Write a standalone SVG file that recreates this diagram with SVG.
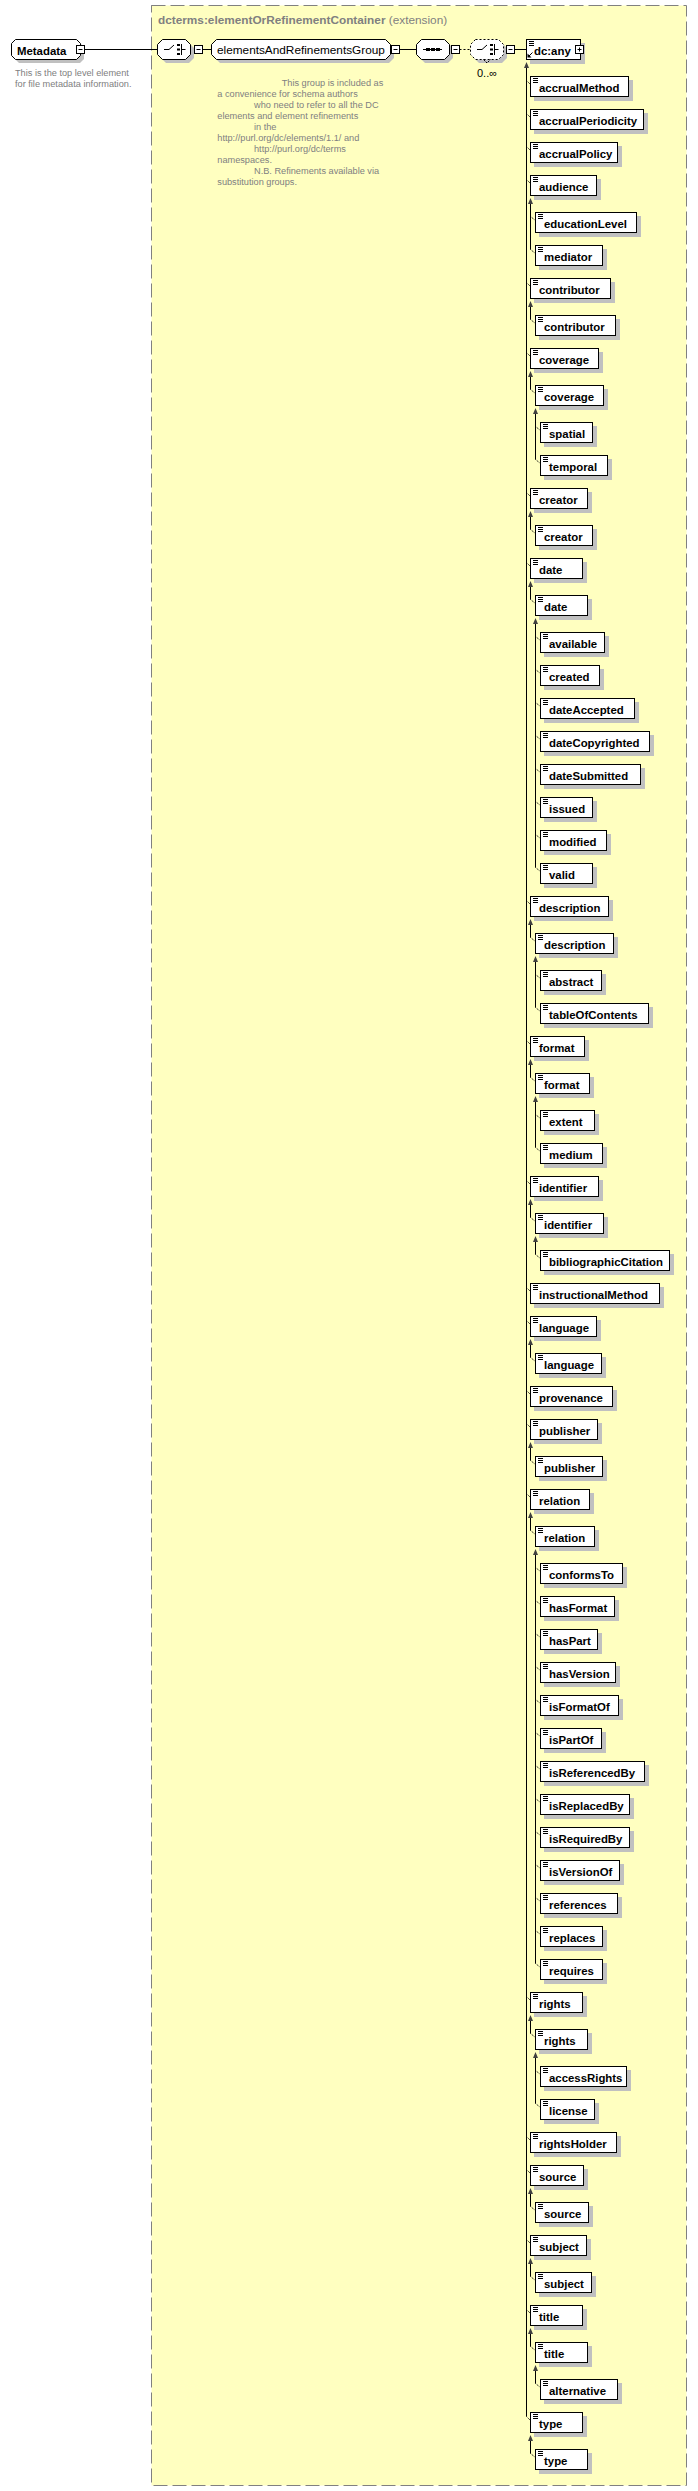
<svg xmlns="http://www.w3.org/2000/svg" width="698" height="2491" viewBox="0 0 698 2491">
<style>
.sh{fill:#c0c0c0}
.bx{fill:#fff;stroke:#000;stroke-width:1}
.ic{stroke:#000;stroke-width:1;fill:none}
.el{font-family:"Liberation Sans",Arial,sans-serif;font-weight:bold;font-size:11.4px;fill:#000}
.ln{stroke:#000;stroke-width:1;fill:none}
.dt{stroke:#000;stroke-width:1;stroke-dasharray:1 1;fill:none}
.ar{fill:#404040}
.doc{font-family:"Liberation Sans",Arial,sans-serif;font-size:9.2px;fill:#808080}
.btn{fill:#fff;stroke:#000;stroke-width:1}
</style>
<defs>
<path id="ico" class="ic" d="M3 2.5h5M3 4.5h5M3 6.5h5"/>
</defs>
<rect id="container" x="151.5" y="5.5" width="535" height="2480" fill="#ffffc0" stroke="#808080" stroke-dasharray="14 5"/>
<text x="158" y="24" style="font-family:'Liberation Sans',Arial,sans-serif;font-size:11.8px;fill:#808080"><tspan font-weight="bold">dcterms:elementOrRefinementContainer</tspan> (extension)</text>

<g id="connectors">
<path class="ln" d="M84.5 49.5H157.5M190.5 49.5H194.5M202.5 49.5H211.5M399.5 49.5H416.5M514.5 49.5H526.5"/>
<path class="ln" d="M459.5 49.5H470.5" stroke-dasharray="2 2"/>
<path class="ln" d="M526.5 68V2416.5
M530.5 204V249.5M530.5 307V319.5M530.5 377V389.5M530.5 517V529.5M530.5 587V599.5M530.5 925V937.5M530.5 1065V1077.5M530.5 1205V1217.5M530.5 1345V1357.5M530.5 1448V1460.5M530.5 1518V1530.5M530.5 2021V2033.5M530.5 2194V2206.5M530.5 2264V2276.5M530.5 2334V2346.5M530.5 2441V2453.5
M535.5 414V459.5M535.5 624V867.5M535.5 962V1007.5M535.5 1102V1147.5M535.5 1242V1254.5M535.5 1555V1963.5M535.5 2058V2103.5M535.5 2371V2383.5"/>
<path class="ar" d="M526.5 62l2.5 6h-5z
M530.5 198l2.5 6h-5zM530.5 301l2.5 6h-5zM530.5 371l2.5 6h-5zM530.5 511l2.5 6h-5zM530.5 581l2.5 6h-5zM530.5 919l2.5 6h-5zM530.5 1059l2.5 6h-5zM530.5 1199l2.5 6h-5zM530.5 1339l2.5 6h-5zM530.5 1442l2.5 6h-5zM530.5 1512l2.5 6h-5zM530.5 2015l2.5 6h-5zM530.5 2188l2.5 6h-5zM530.5 2258l2.5 6h-5zM530.5 2328l2.5 6h-5zM530.5 2435l2.5 6h-5z
M535.5 408l2.5 6h-5zM535.5 618l2.5 6h-5zM535.5 956l2.5 6h-5zM535.5 1096l2.5 6h-5zM535.5 1236l2.5 6h-5zM535.5 1549l2.5 6h-5zM535.5 2052l2.5 6h-5zM535.5 2365l2.5 6h-5z"/>
<path class="dt" d="M526.5 80.5l4 4M526.5 113.5l4 4M526.5 146.5l4 4M526.5 179.5l4 4M526.5 282.5l4 4M526.5 352.5l4 4M526.5 492.5l4 4M526.5 562.5l4 4M526.5 900.5l4 4M526.5 1040.5l4 4M526.5 1180.5l4 4M526.5 1287.5l4 4M526.5 1320.5l4 4M526.5 1390.5l4 4M526.5 1423.5l4 4M526.5 1493.5l4 4M526.5 1996.5l4 4M526.5 2136.5l4 4M526.5 2169.5l4 4M526.5 2239.5l4 4M526.5 2309.5l4 4M526.5 2416.5l4 4
M530.5 216.5l5 4M530.5 249.5l5 4M530.5 319.5l5 4M530.5 389.5l5 4M530.5 529.5l5 4M530.5 599.5l5 4M530.5 937.5l5 4M530.5 1077.5l5 4M530.5 1217.5l5 4M530.5 1357.5l5 4M530.5 1460.5l5 4M530.5 1530.5l5 4M530.5 2033.5l5 4M530.5 2206.5l5 4M530.5 2276.5l5 4M530.5 2346.5l5 4M530.5 2453.5l5 4
M535.5 426.5l5 4M535.5 459.5l5 4M535.5 636.5l5 4M535.5 669.5l5 4M535.5 702.5l5 4M535.5 735.5l5 4M535.5 768.5l5 4M535.5 801.5l5 4M535.5 834.5l5 4M535.5 867.5l5 4M535.5 974.5l5 4M535.5 1007.5l5 4M535.5 1114.5l5 4M535.5 1147.5l5 4M535.5 1254.5l5 4M535.5 1567.5l5 4M535.5 1600.5l5 4M535.5 1633.5l5 4M535.5 1666.5l5 4M535.5 1699.5l5 4M535.5 1732.5l5 4M535.5 1765.5l5 4M535.5 1798.5l5 4M535.5 1831.5l5 4M535.5 1864.5l5 4M535.5 1897.5l5 4M535.5 1930.5l5 4M535.5 1963.5l5 4M535.5 2070.5l5 4M535.5 2103.5l5 4M535.5 2383.5l5 4"/>
</g>

<g id="Metadata">
<path class="sh" d="M19 43H80L84 47V59L80 63H19L15 59V47Z"/>
<path class="bx" d="M15.5 39.5H76.5L80.5 43.5V55.5L76.5 59.5H15.5L11.5 55.5V43.5Z"/>
<text class="el" x="17" y="55">Metadata</text>
<rect class="btn" x="76.5" y="45.5" width="8" height="8"/>
<path class="ic" d="M78.5 49.5h4"/>
<text class="doc" x="15" y="76">This is the top level element</text>
<text class="doc" x="15" y="87">for file metadata information.</text>
</g>

<g id="choice">
<path class="sh" d="M166 43H189L194 48V58L189 63H166L161 58V48Z"/>
<path class="bx" d="M162.5 39.5H185.5L190.5 44.5V54.5L185.5 59.5H162.5L157.5 54.5V44.5Z"/>
<path class="ic" d="M164 49.5h5l5-4.5M181.5 44v11M181.5 49.5h4"/>
<path d="M177 44h3v2h-3zM177 48.5h3v2h-3zM177 53h3v2h-3z" fill="#000"/>
<rect class="btn" x="194.5" y="45.5" width="8" height="8"/>
<path class="ic" d="M196.5 49.5h4"/>
</g>

<g id="elementsAndRefinementsGroup">
<path class="sh" d="M220 43H389L394 48V58L389 63H220L215 58V48Z"/>
<path class="bx" d="M216.5 39.5H385.5L390.5 44.5V54.5L385.5 59.5H216.5L211.5 54.5V44.5Z"/>
<text x="217" y="54" style="font-family:'Liberation Sans',Arial,sans-serif;font-size:11.8px;fill:#000">elementsAndRefinementsGroup</text>
<rect class="btn" x="391.5" y="45.5" width="8" height="8"/>
<path class="ic" d="M393.5 49.5h4"/>
<text class="doc" xml:space="preserve"><tspan x="281.7" y="86">This group is included as</tspan><tspan x="217.3" y="97">a convenience for schema authors</tspan><tspan x="254" y="108">who need to refer to all the DC</tspan><tspan x="217.3" y="119">elements and element refinements</tspan><tspan x="254" y="130">in the</tspan><tspan x="217.3" y="141">http://purl.org/dc/elements/1.1/ and</tspan><tspan x="254" y="152">http://purl.org/dc/terms</tspan><tspan x="217.3" y="163">namespaces.</tspan><tspan x="254" y="174">N.B. Refinements available via</tspan><tspan x="217.3" y="185">substitution groups.</tspan></text>
</g>

<g id="sequence">
<path class="sh" d="M425 43H448L453 48V58L448 63H425L420 58V48Z"/>
<path class="bx" d="M421.5 39.5H444.5L449.5 44.5V54.5L444.5 59.5H421.5L416.5 54.5V44.5Z"/>
<path class="ic" d="M423 49.5h19"/>
<path d="M426 48h4v3h-4zM431 48h4v3h-4zM436 48h4v3h-4z" fill="#000"/>
<rect class="btn" x="451.5" y="45.5" width="8" height="8"/>
<path class="ic" d="M453.5 49.5h4"/>
</g>

<g id="choice-any">
<path class="sh" d="M479 43H502L507 48V58L502 63H479L474 58V48Z"/>
<path class="bx" d="M475.5 39.5H498.5L503.5 44.5V54.5L498.5 59.5H475.5L470.5 54.5V44.5Z" stroke-dasharray="2 2"/>
<path class="ic" d="M483.5 59.5l3.5 3.5 3.5-3.5" stroke-dasharray="2 1"/>
<path class="ic" d="M477 49.5h5l5-4.5M494.5 44v11M494.5 49.5h4"/>
<path d="M490 44h3v2h-3zM490 48.5h3v2h-3zM490 53h3v2h-3z" fill="#000"/>
<text x="487" y="77" text-anchor="middle" style="font-family:'Liberation Sans',Arial,sans-serif;font-size:11px;fill:#000">0..∞</text>
<rect class="btn" x="506.5" y="45.5" width="8" height="8"/>
<path class="ic" d="M508.5 49.5h4"/>
</g>

<g id="dc-any" transform="translate(526,39)">
<rect class="sh" x="4" y="4" width="55" height="21"/>
<rect class="bx" x=".5" y=".5" width="54" height="20"/>
<use href="#ico"/>
<path class="ic" d="M2.5 17.5l4-4"/>
<path d="M1.5 18.5v-4l4 4z" fill="#000"/>
<text class="el" x="8" y="15.5">dc:any</text>
<rect class="btn" x="49.5" y="6.5" width="8" height="8"/>
<path class="ic" d="M51.5 10.5h4M53.5 8.5v4"/>
</g>

<g id="n01" transform="translate(530,76)"><rect class="sh" x="4" y="4" width="99" height="21"/><rect class="bx" x=".5" y=".5" width="98" height="20"/><use href="#ico"/><text class="el" x="9" y="15.5">accrualMethod</text></g>
<g id="n02" transform="translate(530,109)"><rect class="sh" x="4" y="4" width="114" height="21"/><rect class="bx" x=".5" y=".5" width="113" height="20"/><use href="#ico"/><text class="el" x="9" y="15.5">accrualPeriodicity</text></g>
<g id="n03" transform="translate(530,142)"><rect class="sh" x="4" y="4" width="88" height="21"/><rect class="bx" x=".5" y=".5" width="87" height="20"/><use href="#ico"/><text class="el" x="9" y="15.5">accrualPolicy</text></g>
<g id="n04" transform="translate(530,175)"><rect class="sh" x="4" y="4" width="67" height="21"/><rect class="bx" x=".5" y=".5" width="66" height="20"/><use href="#ico"/><text class="el" x="9" y="15.5">audience</text></g>
<g id="n05" transform="translate(535,212)"><rect class="sh" x="4" y="4" width="102" height="21"/><rect class="bx" x=".5" y=".5" width="101" height="20"/><use href="#ico"/><text class="el" x="9" y="15.5">educationLevel</text></g>
<g id="n06" transform="translate(535,245)"><rect class="sh" x="4" y="4" width="68" height="21"/><rect class="bx" x=".5" y=".5" width="67" height="20"/><use href="#ico"/><text class="el" x="9" y="15.5">mediator</text></g>
<g id="n07" transform="translate(530,278)"><rect class="sh" x="4" y="4" width="81" height="21"/><rect class="bx" x=".5" y=".5" width="80" height="20"/><use href="#ico"/><text class="el" x="9" y="15.5">contributor</text></g>
<g id="n08" transform="translate(535,315)"><rect class="sh" x="4" y="4" width="81" height="21"/><rect class="bx" x=".5" y=".5" width="80" height="20"/><use href="#ico"/><text class="el" x="9" y="15.5">contributor</text></g>
<g id="n09" transform="translate(530,348)"><rect class="sh" x="4" y="4" width="69" height="21"/><rect class="bx" x=".5" y=".5" width="68" height="20"/><use href="#ico"/><text class="el" x="9" y="15.5">coverage</text></g>
<g id="n10" transform="translate(535,385)"><rect class="sh" x="4" y="4" width="69" height="21"/><rect class="bx" x=".5" y=".5" width="68" height="20"/><use href="#ico"/><text class="el" x="9" y="15.5">coverage</text></g>
<g id="n11" transform="translate(540,422)"><rect class="sh" x="4" y="4" width="53" height="21"/><rect class="bx" x=".5" y=".5" width="52" height="20"/><use href="#ico"/><text class="el" x="9" y="15.5">spatial</text></g>
<g id="n12" transform="translate(540,455)"><rect class="sh" x="4" y="4" width="68" height="21"/><rect class="bx" x=".5" y=".5" width="67" height="20"/><use href="#ico"/><text class="el" x="9" y="15.5">temporal</text></g>
<g id="n13" transform="translate(530,488)"><rect class="sh" x="4" y="4" width="58" height="21"/><rect class="bx" x=".5" y=".5" width="57" height="20"/><use href="#ico"/><text class="el" x="9" y="15.5">creator</text></g>
<g id="n14" transform="translate(535,525)"><rect class="sh" x="4" y="4" width="58" height="21"/><rect class="bx" x=".5" y=".5" width="57" height="20"/><use href="#ico"/><text class="el" x="9" y="15.5">creator</text></g>
<g id="n15" transform="translate(530,558)"><rect class="sh" x="4" y="4" width="53" height="21"/><rect class="bx" x=".5" y=".5" width="52" height="20"/><use href="#ico"/><text class="el" x="9" y="15.5">date</text></g>
<g id="n16" transform="translate(535,595)"><rect class="sh" x="4" y="4" width="53" height="21"/><rect class="bx" x=".5" y=".5" width="52" height="20"/><use href="#ico"/><text class="el" x="9" y="15.5">date</text></g>
<g id="n17" transform="translate(540,632)"><rect class="sh" x="4" y="4" width="65" height="21"/><rect class="bx" x=".5" y=".5" width="64" height="20"/><use href="#ico"/><text class="el" x="9" y="15.5">available</text></g>
<g id="n18" transform="translate(540,665)"><rect class="sh" x="4" y="4" width="60" height="21"/><rect class="bx" x=".5" y=".5" width="59" height="20"/><use href="#ico"/><text class="el" x="9" y="15.5">created</text></g>
<g id="n19" transform="translate(540,698)"><rect class="sh" x="4" y="4" width="95" height="21"/><rect class="bx" x=".5" y=".5" width="94" height="20"/><use href="#ico"/><text class="el" x="9" y="15.5">dateAccepted</text></g>
<g id="n20" transform="translate(540,731)"><rect class="sh" x="4" y="4" width="110" height="21"/><rect class="bx" x=".5" y=".5" width="109" height="20"/><use href="#ico"/><text class="el" x="9" y="15.5">dateCopyrighted</text></g>
<g id="n21" transform="translate(540,764)"><rect class="sh" x="4" y="4" width="101" height="21"/><rect class="bx" x=".5" y=".5" width="100" height="20"/><use href="#ico"/><text class="el" x="9" y="15.5">dateSubmitted</text></g>
<g id="n22" transform="translate(540,797)"><rect class="sh" x="4" y="4" width="53" height="21"/><rect class="bx" x=".5" y=".5" width="52" height="20"/><use href="#ico"/><text class="el" x="9" y="15.5">issued</text></g>
<g id="n23" transform="translate(540,830)"><rect class="sh" x="4" y="4" width="67" height="21"/><rect class="bx" x=".5" y=".5" width="66" height="20"/><use href="#ico"/><text class="el" x="9" y="15.5">modified</text></g>
<g id="n24" transform="translate(540,863)"><rect class="sh" x="4" y="4" width="53" height="21"/><rect class="bx" x=".5" y=".5" width="52" height="20"/><use href="#ico"/><text class="el" x="9" y="15.5">valid</text></g>
<g id="n25" transform="translate(530,896)"><rect class="sh" x="4" y="4" width="79" height="21"/><rect class="bx" x=".5" y=".5" width="78" height="20"/><use href="#ico"/><text class="el" x="9" y="15.5">description</text></g>
<g id="n26" transform="translate(535,933)"><rect class="sh" x="4" y="4" width="79" height="21"/><rect class="bx" x=".5" y=".5" width="78" height="20"/><use href="#ico"/><text class="el" x="9" y="15.5">description</text></g>
<g id="n27" transform="translate(540,970)"><rect class="sh" x="4" y="4" width="62" height="21"/><rect class="bx" x=".5" y=".5" width="61" height="20"/><use href="#ico"/><text class="el" x="9" y="15.5">abstract</text></g>
<g id="n28" transform="translate(540,1003)"><rect class="sh" x="4" y="4" width="109" height="21"/><rect class="bx" x=".5" y=".5" width="108" height="20"/><use href="#ico"/><text class="el" x="9" y="15.5">tableOfContents</text></g>
<g id="n29" transform="translate(530,1036)"><rect class="sh" x="4" y="4" width="55" height="21"/><rect class="bx" x=".5" y=".5" width="54" height="20"/><use href="#ico"/><text class="el" x="9" y="15.5">format</text></g>
<g id="n30" transform="translate(535,1073)"><rect class="sh" x="4" y="4" width="55" height="21"/><rect class="bx" x=".5" y=".5" width="54" height="20"/><use href="#ico"/><text class="el" x="9" y="15.5">format</text></g>
<g id="n31" transform="translate(540,1110)"><rect class="sh" x="4" y="4" width="55" height="21"/><rect class="bx" x=".5" y=".5" width="54" height="20"/><use href="#ico"/><text class="el" x="9" y="15.5">extent</text></g>
<g id="n32" transform="translate(540,1143)"><rect class="sh" x="4" y="4" width="63" height="21"/><rect class="bx" x=".5" y=".5" width="62" height="20"/><use href="#ico"/><text class="el" x="9" y="15.5">medium</text></g>
<g id="n33" transform="translate(530,1176)"><rect class="sh" x="4" y="4" width="69" height="21"/><rect class="bx" x=".5" y=".5" width="68" height="20"/><use href="#ico"/><text class="el" x="9" y="15.5">identifier</text></g>
<g id="n34" transform="translate(535,1213)"><rect class="sh" x="4" y="4" width="69" height="21"/><rect class="bx" x=".5" y=".5" width="68" height="20"/><use href="#ico"/><text class="el" x="9" y="15.5">identifier</text></g>
<g id="n35" transform="translate(540,1250)"><rect class="sh" x="4" y="4" width="130" height="21"/><rect class="bx" x=".5" y=".5" width="129" height="20"/><use href="#ico"/><text class="el" x="9" y="15.5">bibliographicCitation</text></g>
<g id="n36" transform="translate(530,1283)"><rect class="sh" x="4" y="4" width="130" height="21"/><rect class="bx" x=".5" y=".5" width="129" height="20"/><use href="#ico"/><text class="el" x="9" y="15.5">instructionalMethod</text></g>
<g id="n37" transform="translate(530,1316)"><rect class="sh" x="4" y="4" width="67" height="21"/><rect class="bx" x=".5" y=".5" width="66" height="20"/><use href="#ico"/><text class="el" x="9" y="15.5">language</text></g>
<g id="n38" transform="translate(535,1353)"><rect class="sh" x="4" y="4" width="67" height="21"/><rect class="bx" x=".5" y=".5" width="66" height="20"/><use href="#ico"/><text class="el" x="9" y="15.5">language</text></g>
<g id="n39" transform="translate(530,1386)"><rect class="sh" x="4" y="4" width="83" height="21"/><rect class="bx" x=".5" y=".5" width="82" height="20"/><use href="#ico"/><text class="el" x="9" y="15.5">provenance</text></g>
<g id="n40" transform="translate(530,1419)"><rect class="sh" x="4" y="4" width="68" height="21"/><rect class="bx" x=".5" y=".5" width="67" height="20"/><use href="#ico"/><text class="el" x="9" y="15.5">publisher</text></g>
<g id="n41" transform="translate(535,1456)"><rect class="sh" x="4" y="4" width="68" height="21"/><rect class="bx" x=".5" y=".5" width="67" height="20"/><use href="#ico"/><text class="el" x="9" y="15.5">publisher</text></g>
<g id="n42" transform="translate(530,1489)"><rect class="sh" x="4" y="4" width="60" height="21"/><rect class="bx" x=".5" y=".5" width="59" height="20"/><use href="#ico"/><text class="el" x="9" y="15.5">relation</text></g>
<g id="n43" transform="translate(535,1526)"><rect class="sh" x="4" y="4" width="60" height="21"/><rect class="bx" x=".5" y=".5" width="59" height="20"/><use href="#ico"/><text class="el" x="9" y="15.5">relation</text></g>
<g id="n44" transform="translate(540,1563)"><rect class="sh" x="4" y="4" width="83" height="21"/><rect class="bx" x=".5" y=".5" width="82" height="20"/><use href="#ico"/><text class="el" x="9" y="15.5">conformsTo</text></g>
<g id="n45" transform="translate(540,1596)"><rect class="sh" x="4" y="4" width="75" height="21"/><rect class="bx" x=".5" y=".5" width="74" height="20"/><use href="#ico"/><text class="el" x="9" y="15.5">hasFormat</text></g>
<g id="n46" transform="translate(540,1629)"><rect class="sh" x="4" y="4" width="58" height="21"/><rect class="bx" x=".5" y=".5" width="57" height="20"/><use href="#ico"/><text class="el" x="9" y="15.5">hasPart</text></g>
<g id="n47" transform="translate(540,1662)"><rect class="sh" x="4" y="4" width="76" height="21"/><rect class="bx" x=".5" y=".5" width="75" height="20"/><use href="#ico"/><text class="el" x="9" y="15.5">hasVersion</text></g>
<g id="n48" transform="translate(540,1695)"><rect class="sh" x="4" y="4" width="79" height="21"/><rect class="bx" x=".5" y=".5" width="78" height="20"/><use href="#ico"/><text class="el" x="9" y="15.5">isFormatOf</text></g>
<g id="n49" transform="translate(540,1728)"><rect class="sh" x="4" y="4" width="62" height="21"/><rect class="bx" x=".5" y=".5" width="61" height="20"/><use href="#ico"/><text class="el" x="9" y="15.5">isPartOf</text></g>
<g id="n50" transform="translate(540,1761)"><rect class="sh" x="4" y="4" width="105" height="21"/><rect class="bx" x=".5" y=".5" width="104" height="20"/><use href="#ico"/><text class="el" x="9" y="15.5">isReferencedBy</text></g>
<g id="n51" transform="translate(540,1794)"><rect class="sh" x="4" y="4" width="90" height="21"/><rect class="bx" x=".5" y=".5" width="89" height="20"/><use href="#ico"/><text class="el" x="9" y="15.5">isReplacedBy</text></g>
<g id="n52" transform="translate(540,1827)"><rect class="sh" x="4" y="4" width="90" height="21"/><rect class="bx" x=".5" y=".5" width="89" height="20"/><use href="#ico"/><text class="el" x="9" y="15.5">isRequiredBy</text></g>
<g id="n53" transform="translate(540,1860)"><rect class="sh" x="4" y="4" width="80" height="21"/><rect class="bx" x=".5" y=".5" width="79" height="20"/><use href="#ico"/><text class="el" x="9" y="15.5">isVersionOf</text></g>
<g id="n54" transform="translate(540,1893)"><rect class="sh" x="4" y="4" width="78" height="21"/><rect class="bx" x=".5" y=".5" width="77" height="20"/><use href="#ico"/><text class="el" x="9" y="15.5">references</text></g>
<g id="n55" transform="translate(540,1926)"><rect class="sh" x="4" y="4" width="63" height="21"/><rect class="bx" x=".5" y=".5" width="62" height="20"/><use href="#ico"/><text class="el" x="9" y="15.5">replaces</text></g>
<g id="n56" transform="translate(540,1959)"><rect class="sh" x="4" y="4" width="63" height="21"/><rect class="bx" x=".5" y=".5" width="62" height="20"/><use href="#ico"/><text class="el" x="9" y="15.5">requires</text></g>
<g id="n57" transform="translate(530,1992)"><rect class="sh" x="4" y="4" width="53" height="21"/><rect class="bx" x=".5" y=".5" width="52" height="20"/><use href="#ico"/><text class="el" x="9" y="15.5">rights</text></g>
<g id="n58" transform="translate(535,2029)"><rect class="sh" x="4" y="4" width="53" height="21"/><rect class="bx" x=".5" y=".5" width="52" height="20"/><use href="#ico"/><text class="el" x="9" y="15.5">rights</text></g>
<g id="n59" transform="translate(540,2066)"><rect class="sh" x="4" y="4" width="87" height="21"/><rect class="bx" x=".5" y=".5" width="86" height="20"/><use href="#ico"/><text class="el" x="9" y="15.5">accessRights</text></g>
<g id="n60" transform="translate(540,2099)"><rect class="sh" x="4" y="4" width="55" height="21"/><rect class="bx" x=".5" y=".5" width="54" height="20"/><use href="#ico"/><text class="el" x="9" y="15.5">license</text></g>
<g id="n61" transform="translate(530,2132)"><rect class="sh" x="4" y="4" width="87" height="21"/><rect class="bx" x=".5" y=".5" width="86" height="20"/><use href="#ico"/><text class="el" x="9" y="15.5">rightsHolder</text></g>
<g id="n62" transform="translate(530,2165)"><rect class="sh" x="4" y="4" width="54" height="21"/><rect class="bx" x=".5" y=".5" width="53" height="20"/><use href="#ico"/><text class="el" x="9" y="15.5">source</text></g>
<g id="n63" transform="translate(535,2202)"><rect class="sh" x="4" y="4" width="54" height="21"/><rect class="bx" x=".5" y=".5" width="53" height="20"/><use href="#ico"/><text class="el" x="9" y="15.5">source</text></g>
<g id="n64" transform="translate(530,2235)"><rect class="sh" x="4" y="4" width="57" height="21"/><rect class="bx" x=".5" y=".5" width="56" height="20"/><use href="#ico"/><text class="el" x="9" y="15.5">subject</text></g>
<g id="n65" transform="translate(535,2272)"><rect class="sh" x="4" y="4" width="57" height="21"/><rect class="bx" x=".5" y=".5" width="56" height="20"/><use href="#ico"/><text class="el" x="9" y="15.5">subject</text></g>
<g id="n66" transform="translate(530,2305)"><rect class="sh" x="4" y="4" width="53" height="21"/><rect class="bx" x=".5" y=".5" width="52" height="20"/><use href="#ico"/><text class="el" x="9" y="15.5">title</text></g>
<g id="n67" transform="translate(535,2342)"><rect class="sh" x="4" y="4" width="53" height="21"/><rect class="bx" x=".5" y=".5" width="52" height="20"/><use href="#ico"/><text class="el" x="9" y="15.5">title</text></g>
<g id="n68" transform="translate(540,2379)"><rect class="sh" x="4" y="4" width="78" height="21"/><rect class="bx" x=".5" y=".5" width="77" height="20"/><use href="#ico"/><text class="el" x="9" y="15.5">alternative</text></g>
<g id="n69" transform="translate(530,2412)"><rect class="sh" x="4" y="4" width="53" height="21"/><rect class="bx" x=".5" y=".5" width="52" height="20"/><use href="#ico"/><text class="el" x="9" y="15.5">type</text></g>
<g id="n70" transform="translate(535,2449)"><rect class="sh" x="4" y="4" width="53" height="21"/><rect class="bx" x=".5" y=".5" width="52" height="20"/><use href="#ico"/><text class="el" x="9" y="15.5">type</text></g>
</svg>
